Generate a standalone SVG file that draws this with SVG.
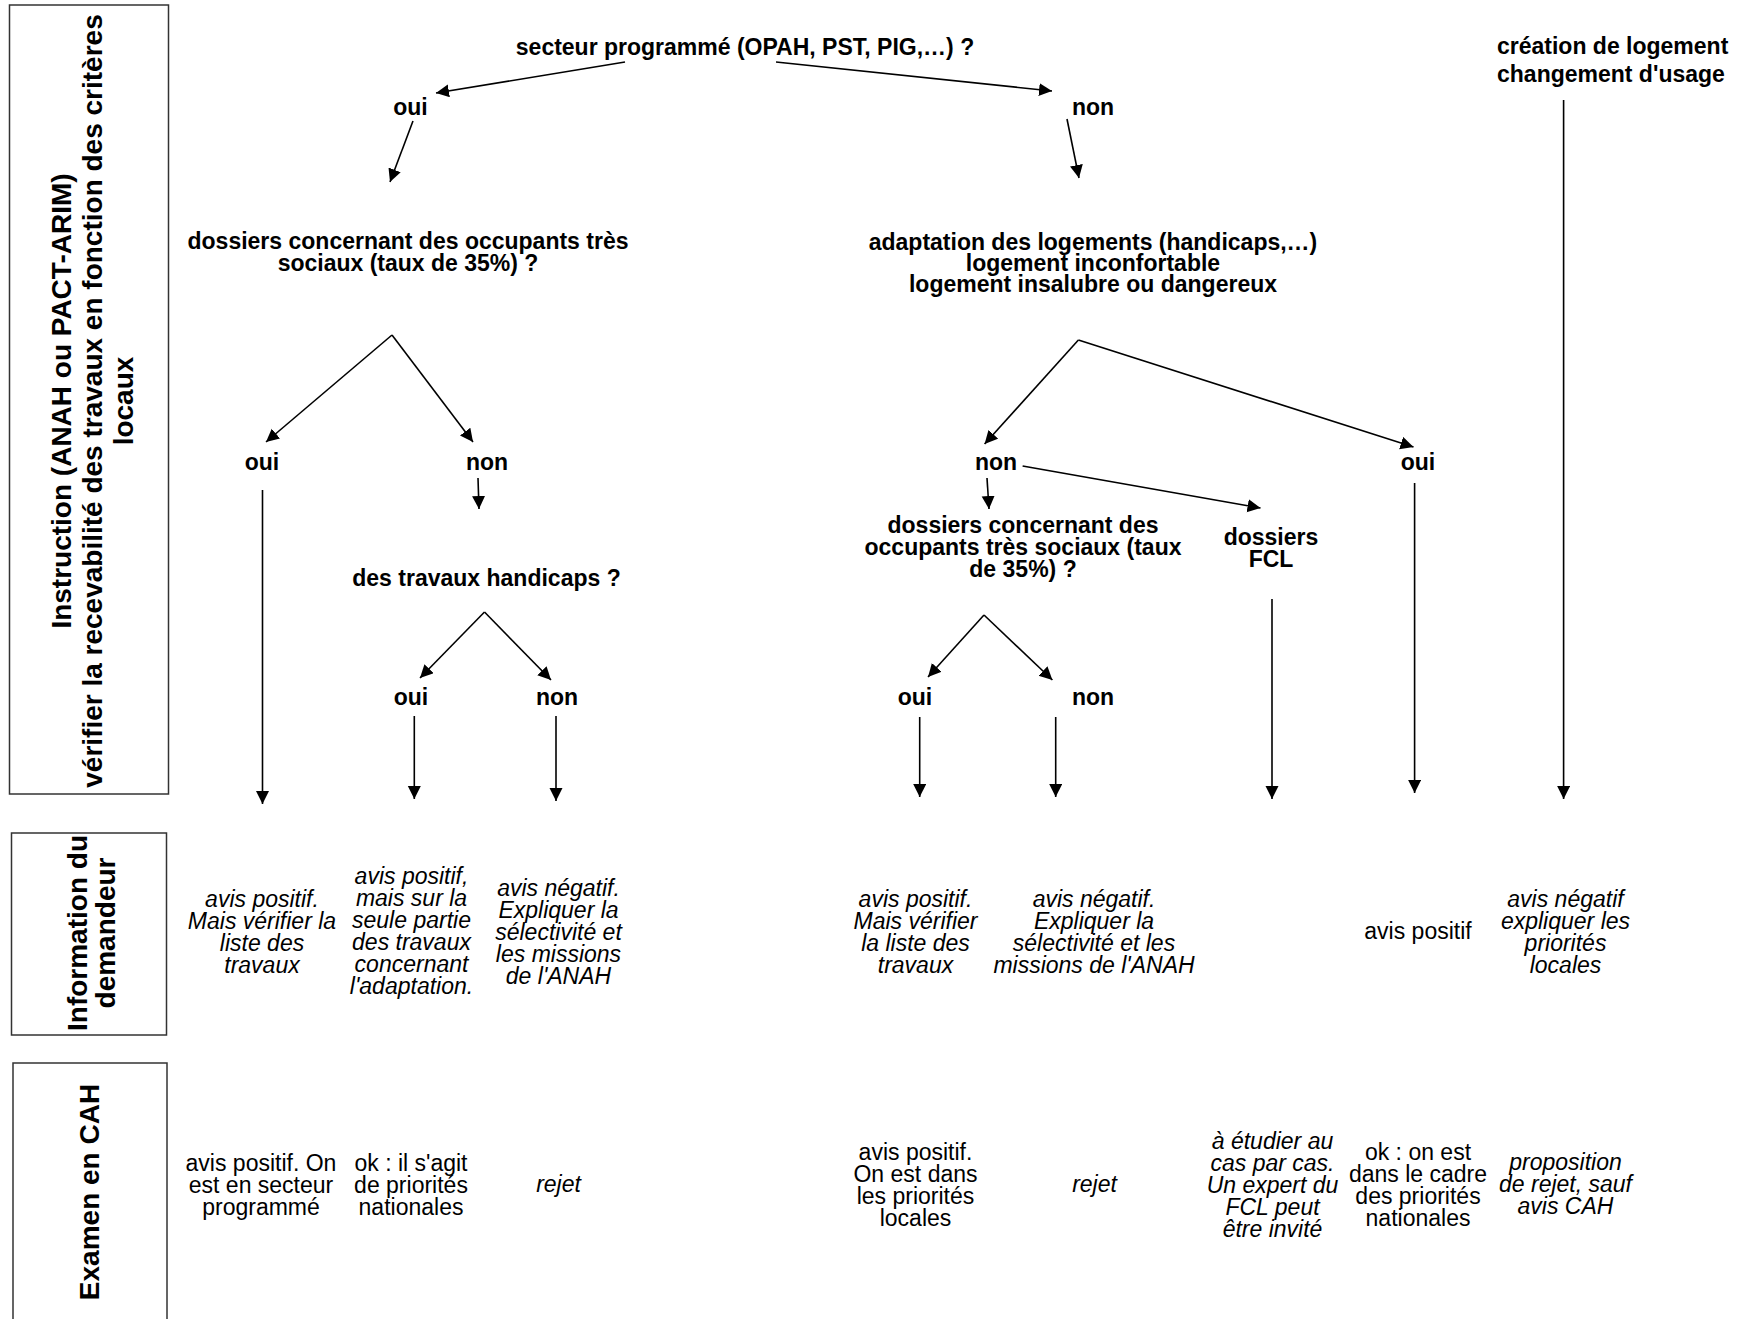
<svg xmlns="http://www.w3.org/2000/svg" width="1747" height="1319" viewBox="0 0 1747 1319">
<style>
text{font-family:"Liberation Sans",Arial,Helvetica,sans-serif;fill:#000;text-anchor:middle}
.b{font-weight:bold;font-size:23px}
.i{font-style:italic;font-size:23px}
.r{font-size:23px}
.lab{font-weight:bold;font-size:28px}
.box{fill:none;stroke:#333;stroke-width:1.5}
.c line{stroke:#000;stroke-width:1.6;marker-end:url(#ah)}
</style>
<defs>
<marker id="ah" markerUnits="userSpaceOnUse" markerWidth="14" markerHeight="14" refX="13" refY="6.5" orient="auto">
<path d="M0,0 L13,6.5 L0,13 z" fill="#000"/>
</marker>
</defs>
<rect width="1747" height="1319" fill="#fff"/>

<g id="box-instruction">
<rect class="box" x="9.5" y="5" width="159" height="789"/>
<g transform="rotate(-90)">
<text class="lab" x="-401" y="71">Instruction (ANAH ou PACT-ARIM)</text>
<text class="lab" x="-401" y="102">vérifier la recevabilité des travaux en fonction des critères</text>
<text class="lab" x="-401" y="133">locaux</text>
</g>
</g>
<g id="box-information">
<rect class="box" x="11.5" y="833" width="155" height="202"/>
<g transform="rotate(-90)">
<text class="lab" x="-933" y="87">Information du</text>
<text class="lab" x="-933" y="115">demandeur</text>
</g>
</g>
<g id="box-examen">
<rect class="box" x="13" y="1063" width="154" height="300"/>
<g transform="rotate(-90)">
<text class="lab" x="-1192" y="99">Examen en CAH</text>
</g>
</g>

<g id="n-secteur"><text class="b" x="745" y="55">secteur programmé (OPAH, PST, PIG,…) ?</text></g>
<g id="n-oui1"><text class="b" x="410.5" y="115">oui</text></g>
<g id="n-non1"><text class="b" x="1093" y="115">non</text></g>
<g id="n-creation"><text class="b" style="text-anchor:start" x="1497" y="54">création de logement</text><text class="b" style="text-anchor:start" x="1497" y="82">changement d'usage</text></g>
<g id="n-dossiers1"><text class="b" x="408" y="249">dossiers concernant des occupants très</text><text class="b" x="408" y="271">sociaux (taux de 35%) ?</text></g>
<g id="n-adaptation"><text class="b" x="1093" y="250">adaptation des logements (handicaps,…)</text><text class="b" x="1093" y="271">logement inconfortable</text><text class="b" x="1093" y="292">logement insalubre ou dangereux</text></g>
<g id="n-oui2"><text class="b" x="262" y="470">oui</text></g>
<g id="n-non2"><text class="b" x="487" y="470">non</text></g>
<g id="n-handicaps"><text class="b" x="486.5" y="586">des travaux handicaps ?</text></g>
<g id="n-oui3"><text class="b" x="411" y="705">oui</text></g>
<g id="n-non3"><text class="b" x="557" y="705">non</text></g>
<g id="n-non4"><text class="b" x="996" y="470">non</text></g>
<g id="n-oui4"><text class="b" x="1418" y="470">oui</text></g>
<g id="n-dossiers2"><text class="b" x="1023" y="533">dossiers concernant des</text><text class="b" x="1023" y="555">occupants très sociaux (taux</text><text class="b" x="1023" y="577">de 35%) ?</text></g>
<g id="n-fcl"><text class="b" x="1271" y="545">dossiers</text><text class="b" x="1271" y="567">FCL</text></g>
<g id="n-oui5"><text class="b" x="915" y="705">oui</text></g>
<g id="n-non5"><text class="b" x="1093" y="705">non</text></g>

<g id="info-a"><text class="i" x="262" y="906.75">avis positif.</text><text class="i" x="262" y="928.75">Mais vérifier la</text><text class="i" x="262" y="950.75">liste des</text><text class="i" x="262" y="972.75">travaux</text></g>
<g id="info-b"><text class="i" x="411.5" y="883.75">avis positif,</text><text class="i" x="411.5" y="905.75">mais sur la</text><text class="i" x="411.5" y="927.75">seule partie</text><text class="i" x="411.5" y="949.75">des travaux</text><text class="i" x="411.5" y="971.75">concernant</text><text class="i" x="411.5" y="993.75">l'adaptation.</text></g>
<g id="info-c"><text class="i" x="558.5" y="896.25">avis négatif.</text><text class="i" x="558.5" y="918.25">Expliquer la</text><text class="i" x="558.5" y="940.25">sélectivité et</text><text class="i" x="558.5" y="962.25">les missions</text><text class="i" x="558.5" y="984.25">de l'ANAH</text></g>
<g id="info-d"><text class="i" x="915.5" y="906.75">avis positif.</text><text class="i" x="915.5" y="928.75">Mais vérifier</text><text class="i" x="915.5" y="950.75">la liste des</text><text class="i" x="915.5" y="972.75">travaux</text></g>
<g id="info-e"><text class="i" x="1094" y="906.75">avis négatif.</text><text class="i" x="1094" y="928.75">Expliquer la</text><text class="i" x="1094" y="950.75">sélectivité et les</text><text class="i" x="1094" y="972.75">missions de l'ANAH</text></g>
<g id="info-f"><text class="r" x="1418" y="939">avis positif</text></g>
<g id="info-g"><text class="i" x="1565.5" y="906.75">avis négatif</text><text class="i" x="1565.5" y="928.75">expliquer les</text><text class="i" x="1565.5" y="950.75">priorités</text><text class="i" x="1565.5" y="972.75">locales</text></g>

<g id="cah-a"><text class="r" x="261" y="1171">avis positif. On</text><text class="r" x="261" y="1193">est en secteur</text><text class="r" x="261" y="1215">programmé</text></g>
<g id="cah-b"><text class="r" x="411" y="1171">ok : il s'agit</text><text class="r" x="411" y="1193">de priorités</text><text class="r" x="411" y="1215">nationales</text></g>
<g id="cah-c"><text class="i" x="558.5" y="1192">rejet</text></g>
<g id="cah-d"><text class="r" x="915.5" y="1159.75">avis positif.</text><text class="r" x="915.5" y="1181.75">On est dans</text><text class="r" x="915.5" y="1203.75">les priorités</text><text class="r" x="915.5" y="1225.75">locales</text></g>
<g id="cah-e"><text class="i" x="1094.5" y="1192">rejet</text></g>
<g id="cah-f"><text class="i" x="1272.5" y="1148.5">à étudier au</text><text class="i" x="1272.5" y="1170.5">cas par cas.</text><text class="i" x="1272.5" y="1192.5">Un expert du</text><text class="i" x="1272.5" y="1214.5">FCL peut</text><text class="i" x="1272.5" y="1236.5">être invité</text></g>
<g id="cah-g"><text class="r" x="1418" y="1159.75">ok : on est</text><text class="r" x="1418" y="1181.75">dans le cadre</text><text class="r" x="1418" y="1203.75">des priorités</text><text class="r" x="1418" y="1225.75">nationales</text></g>
<g id="cah-h"><text class="i" x="1565.5" y="1170">proposition</text><text class="i" x="1565.5" y="1192">de rejet, sauf</text><text class="i" x="1565.5" y="1214">avis CAH</text></g>

<g id="connectors" class="c">
<line x1="625" y1="62" x2="436" y2="93"/>
<line x1="776" y1="62" x2="1052" y2="91"/>
<line x1="413" y1="121" x2="390" y2="182"/>
<line x1="1067" y1="119" x2="1079" y2="178"/>
<line x1="392" y1="335" x2="266" y2="442"/>
<line x1="392" y1="335" x2="473" y2="442"/>
<line x1="262.5" y1="490" x2="262.5" y2="804"/>
<line x1="478" y1="478" x2="479" y2="509"/>
<line x1="484.5" y1="612" x2="420" y2="678"/>
<line x1="484.5" y1="612" x2="551" y2="680"/>
<line x1="414.3" y1="716" x2="414.3" y2="799"/>
<line x1="556" y1="716" x2="556" y2="801"/>
<line x1="1078.4" y1="340" x2="984.6" y2="444"/>
<line x1="1078.4" y1="340" x2="1413.5" y2="447"/>
<line x1="987" y1="478" x2="989" y2="509"/>
<line x1="1022.6" y1="466" x2="1260.5" y2="508"/>
<line x1="984" y1="615" x2="928" y2="677"/>
<line x1="984" y1="615" x2="1052.4" y2="680"/>
<line x1="919.7" y1="717" x2="919.7" y2="797"/>
<line x1="1055.7" y1="717" x2="1055.7" y2="797"/>
<line x1="1272" y1="599" x2="1272" y2="799"/>
<line x1="1414.6" y1="483" x2="1414.6" y2="793"/>
<line x1="1563.6" y1="100" x2="1563.6" y2="799"/>
</g>
</svg>
